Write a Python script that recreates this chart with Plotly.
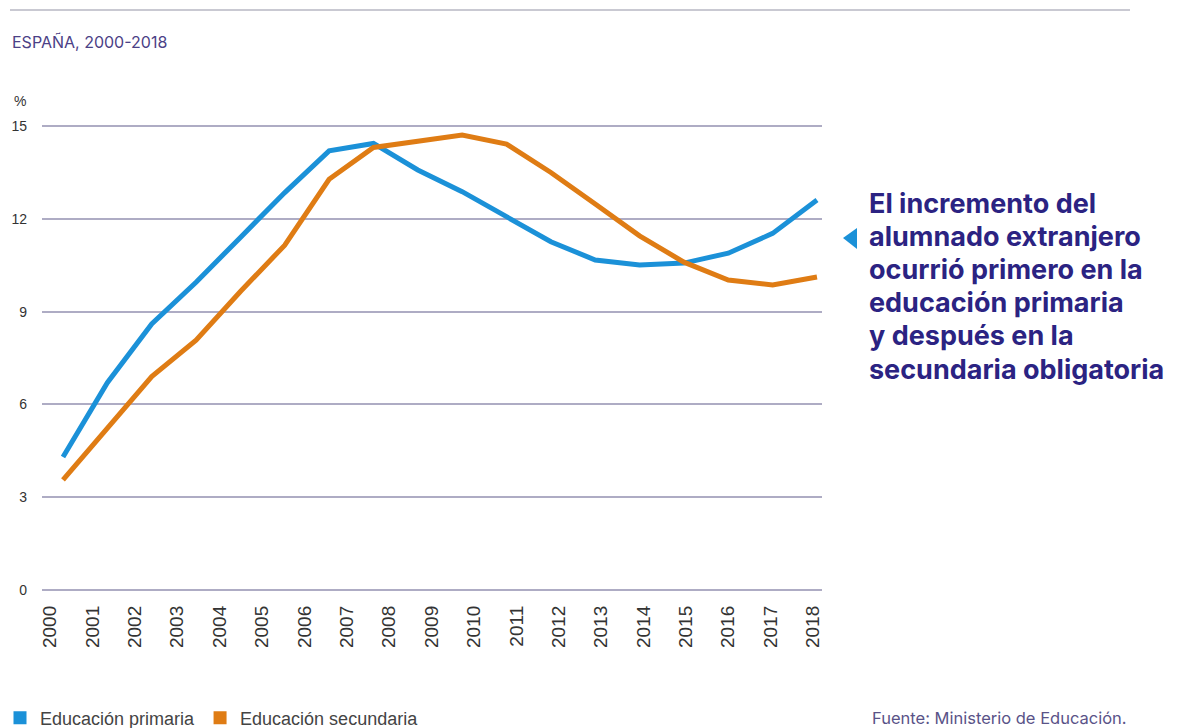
import plotly.graph_objects as go

# Alumnado extranjero en porcentaje del total, por curso escolar
cursos = ["2000-01", "2001-02", "2002-03", "2003-04", "2004-05", "2005-06",
          "2006-07", "2007-08", "2008-09", "2009-10", "2010-11", "2011-12",
          "2012-13", "2013-14", "2014-15", "2015-16", "2016-17", "2017-18"]
primaria = [4.3, 6.7, 8.6, 9.95, 11.4, 12.85, 14.2, 14.44, 13.58, 12.88,
            12.07, 11.26, 10.67, 10.51, 10.57, 10.89, 11.53, 12.61]
secundaria = [3.56, 5.2, 6.9, 8.08, 9.65, 11.15, 13.28, 14.31, 14.49, 14.71,
              14.42, 13.5, 12.48, 11.45, 10.6, 10.02, 9.86, 10.12]

years = list(range(2000, 2019))
y_ticks = [0, 3, 6, 9, 12, 15]

serie_nombres = ["Educación primaria", "Educación secundaria"]
serie_colores = ["#1b91d8", "#df7c14"]

nota_lineas = ["El incremento del", "alumnado extranjero", "ocurrió primero en la",
               "educación primaria", "y después en la", "secundaria obligatoria"]

W, H = 1178, 728
L, R, T, B = 42, 822, 123, 593


def fx(p):
    return (p - L) / (R - L)


def fy(p):
    return (B - p) / (B - T)


fig = go.Figure()

for nombre, valores, color in zip(serie_nombres, [primaria, secundaria], serie_colores):
    fig.add_trace(go.Scatter(
        x=cursos, y=valores, xaxis="x2", yaxis="y", mode="lines",
        line=dict(color=color, width=5), showlegend=False, hoverinfo="skip"))

for nombre, color in zip(serie_nombres, serie_colores):
    fig.add_trace(go.Scatter(
        x=[None], y=[None], mode="markers", name=nombre,
        marker=dict(symbol="square", size=13, color=color)))

shapes = [
    dict(type="line", xref="paper", yref="paper",
         x0=fx(10), x1=fx(1130), y0=fy(10), y1=fy(10),
         line=dict(color="#c9c9d2", width=2)),
    dict(type="path", xref="paper", yref="paper",
         path=f"M {fx(843)},{fy(238)} L {fx(857)},{fy(228)} L {fx(857)},{fy(249)} Z",
         fillcolor="#1b91d8", line=dict(width=0)),
]

annotations = [
    dict(text="ESPAÑA, 2000-2018", xref="paper", yref="paper", x=fx(10), y=fy(42),
         xanchor="left", yanchor="middle", showarrow=False,
         font=dict(family="Inter", size=16, color="#4b4186")),
    dict(text="%", xref="paper", yref="paper", x=fx(12), y=fy(101),
         xanchor="left", yanchor="middle", showarrow=False,
         font=dict(family="Liberation Sans", size=14, color="#333333")),
    dict(text="Fuente: Ministerio de Educación.", xref="paper", yref="paper",
         x=fx(870), y=fy(718), xanchor="left", yanchor="middle", showarrow=False,
         font=dict(family="Inter", size=16.5, color="#5a5388")),
]
for i, linea in enumerate(nota_lineas):
    annotations.append(dict(
        text=linea, xref="paper", yref="paper", x=fx(867), y=fy(203 + i * 33.2),
        xanchor="left", yanchor="middle", showarrow=False,
        font=dict(family="Inter", size=27, weight="bold", color="#2b2382")))

fig.update_layout(
    width=W, height=H,
    margin=dict(l=L, r=W - R, t=T, b=H - B),
    paper_bgcolor="white", plot_bgcolor="white",
    xaxis=dict(range=[1999.81, 2018.21], tickvals=years, ticktext=[str(y) for y in years],
               tickangle=-90, showgrid=False, zeroline=False, showline=False,
               ticks="", ticklabelstandoff=8,
               tickfont=dict(family="Liberation Sans", size=19, color="#333333")),
    xaxis2=dict(type="category", overlaying="x", range=[-0.4735, 17.113],
                visible=False),
    yaxis=dict(range=[-0.1, 15.1], tickvals=y_ticks, showgrid=True,
               gridcolor="#aeacc4", gridwidth=1.5, zeroline=False, showline=False,
               ticks="", ticklabelstandoff=14,
               tickfont=dict(family="Liberation Sans", size=14, color="#333333")),
    legend=dict(orientation="h", xref="container", yref="container",
                x=-0.001, y=(H - 718) / H, xanchor="left", yanchor="middle",
                font=dict(family="Liberation Sans", size=18, color="#444444"),
                bgcolor="rgba(0,0,0,0)"),
    shapes=shapes,
    annotations=annotations,
)

fig.write_html("out.html")
